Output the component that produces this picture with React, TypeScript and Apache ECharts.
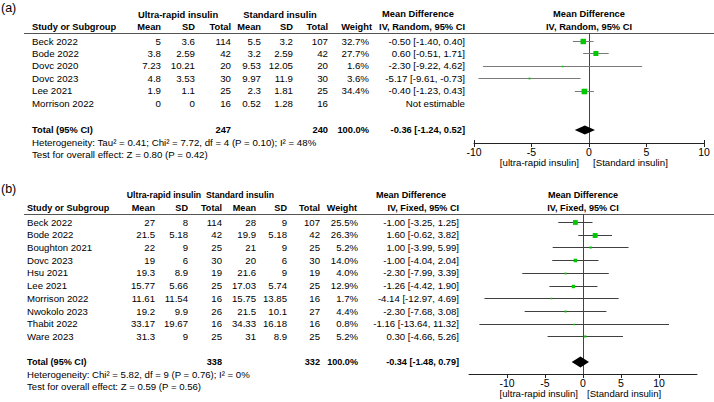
import React, { useEffect, useRef } from "react";
import * as echarts from "echarts";

// ---------- Panel (a): IV, Random ----------
const studiesA = ["Beck 2022", "Bode 2022", "Dovc 2020", "Dovc 2023", "Lee 2021", "Morrison 2022"];
const urMeanA = [5, 3.8, 7.23, 4.8, 1.9, 0];
const urSdA = [3.6, 2.59, 10.21, 3.53, 1.1, 0];
const urTotalA = [114, 42, 20, 30, 25, 16];
const stMeanA = [5.5, 3.2, 9.53, 9.97, 2.3, 0.52];
const stSdA = [3.2, 2.59, 12.05, 11.9, 1.81, 1.28];
const stTotalA = [107, 42, 20, 30, 25, 16];
const weightA: (number | null)[] = [32.7, 27.7, 1.6, 3.6, 34.4, null];
const mdA: (number | null)[] = [-0.5, 0.6, -2.3, -5.17, -0.4, null];
const loA: (number | null)[] = [-1.4, -0.51, -9.22, -9.61, -1.23, null];
const hiA: (number | null)[] = [0.4, 1.71, 4.62, -0.73, 0.43, null];
const totalsA = [247, 240];
const pooledA = [-0.36, -1.24, 0.52];
const statsA = [
  "Heterogeneity: Tau\u00b2 = 0.41; Chi\u00b2 = 7.72, df = 4 (P = 0.10); I\u00b2 = 48%",
  "Test for overall effect: Z = 0.80 (P = 0.42)",
];

// ---------- Panel (b): IV, Fixed ----------
const studiesB = [
  "Beck 2022", "Bode 2022", "Boughton 2021", "Dovc 2023", "Hsu 2021",
  "Lee 2021", "Morrison 2022", "Nwokolo 2023", "Thabit 2022", "Ware 2023",
];
const urMeanB = [27, 21.5, 22, 19, 19.3, 15.77, 11.61, 19.2, 33.17, 31.3];
const urSdB = [8, 5.18, 9, 6, 8.9, 5.66, 11.54, 9.9, 19.67, 9];
const urTotalB = [114, 42, 25, 30, 19, 25, 16, 26, 16, 25];
const stMeanB = [28, 19.9, 21, 20, 21.6, 17.03, 15.75, 21.5, 34.33, 31];
const stSdB = [9, 5.18, 9, 6, 9, 5.74, 13.85, 10.1, 16.18, 8.9];
const stTotalB = [107, 42, 25, 30, 19, 25, 16, 27, 16, 25];
const weightB: (number | null)[] = [25.5, 26.3, 5.2, 14.0, 4.0, 12.9, 1.7, 4.4, 0.8, 5.2];
const mdB: (number | null)[] = [-1.0, 1.6, 1.0, -1.0, -2.3, -1.26, -4.14, -2.3, -1.16, 0.3];
const loB: (number | null)[] = [-3.25, -0.62, -3.99, -4.04, -7.99, -4.42, -12.97, -7.68, -13.64, -4.66];
const hiB: (number | null)[] = [1.25, 3.82, 5.99, 2.04, 3.39, 1.9, 4.69, 3.08, 11.32, 5.26];
const totalsB = [338, 332];
const pooledB = [-0.34, -1.48, 0.79];
const statsB = [
  "Heterogeneity: Chi\u00b2 = 5.82, df = 9 (P = 0.76); I\u00b2 = 0%",
  "Test for overall effect: Z = 0.59 (P = 0.56)",
];

const axisTicks = [-10, -5, 0, 5, 10];

const FONT = '"Liberation Sans", Arial, Helvetica, sans-serif';
const GREEN = "#00c800";

type Layout = {
  tag: string;
  method: string;
  top: number; // header rule
  axisY: number; // x axis line
  row0: number; // first study row centre
  pitch: number;
  totalY: number;
  size: number;
  boldSize: number;
  groupSize: number;
  name: number;
  urMean: number; urSd: number; urTotal: number;
  stMean: number; stSd: number; stTotal: number;
  weight: number; weightHead: number; ci: number;
  groupUR: number; groupST: number; mdHead: number;
  plotLeft: number; plotRight: number;
  xMin: number; xMax: number;
  whisker: string;
  diamondH: number;
  endTicksBothSides: boolean;
  leftLabelEnd: number; rightLabelStart: number;
};

const layoutA: Layout = {
  tag: "(a)", method: "IV, Random, 95% CI",
  top: 33, axisY: 143, row0: 41, pitch: 12.4, totalY: 130,
  size: 9.7, boldSize: 9.3, groupSize: 9.4,
  name: 32, urMean: 161, urSd: 195, urTotal: 231, stMean: 261, stSd: 293, stTotal: 328,
  weight: 369, weightHead: 372, ci: 465, groupUR: 178, groupST: 280, mdHead: 418,
  plotLeft: 474, plotRight: 704, xMin: -10, xMax: 10,
  whisker: "#7a7a7a", diamondH: 4.6, endTicksBothSides: true,
  leftLabelEnd: 579, rightLabelStart: 593,
};

const layoutB: Layout = {
  tag: "(b)", method: "IV, Fixed, 95% CI",
  top: 214, axisY: 374, row0: 222, pitch: 12.72, totalY: 362,
  size: 9.6, boldSize: 9.1, groupSize: 8.7,
  name: 27, urMean: 155, urSd: 188, urTotal: 222, stMean: 256, stSd: 287, stTotal: 320,
  weight: 358, weightHead: 357, ci: 459, groupUR: 164, groupST: 240, mdHead: 411,
  plotLeft: 469, plotRight: 697, xMin: -15, xMax: 15,
  whisker: "#404040", diamondH: 5.6, endTicksBothSides: false,
  leftLabelEnd: 578, rightLabelStart: 587,
};

function txt(x: number, y: number, text: string, size: number, bold = false, align = "left") {
  return {
    type: "text",
    x,
    y,
    silent: true,
    style: {
      text,
      fill: "#000",
      font: `${bold ? "bold " : ""}${size}px ${FONT}`,
      textAlign: align,
      textVerticalAlign: "middle",
      align,
      verticalAlign: "middle",
    },
  };
}

const ci = (m: number, l: number, h: number) => `${m.toFixed(2)} [${l.toFixed(2)}, ${h.toFixed(2)}]`;

function panelGraphics(L: Layout, d: any) {
  const g: any[] = [];
  const rowY = (i: number) => L.row0 + i * L.pitch;
  const x0 = L.plotLeft + ((0 - L.xMin) / (L.xMax - L.xMin)) * (L.plotRight - L.plotLeft);
  const hY1 = L.top - 19;
  const hY2 = L.top - 6;
  const b = L.boldSize;
  const s = L.size;

  g.push(txt(1, L.top - 25, L.tag, 12.5));
  g.push(txt(L.groupUR, hY1, "Ultra-rapid insulin", L.groupSize, true, "center"));
  g.push(txt(L.groupST, hY1, "Standard insulin", L.groupSize, true, "center"));
  g.push(txt(L.mdHead, hY1, "Mean Difference", b, true, "center"));
  g.push(txt(x0, hY1, "Mean Difference", b, true, "center"));

  g.push(txt(L.name, hY2, "Study or Subgroup", b, true, "left"));
  g.push(txt(L.urMean, hY2, "Mean", b, true, "right"));
  g.push(txt(L.urSd, hY2, "SD", b, true, "right"));
  g.push(txt(L.urTotal, hY2, "Total", b, true, "right"));
  g.push(txt(L.stMean, hY2, "Mean", b, true, "right"));
  g.push(txt(L.stSd, hY2, "SD", b, true, "right"));
  g.push(txt(L.stTotal, hY2, "Total", b, true, "right"));
  g.push(txt(L.weightHead, hY2, "Weight", b, true, "right"));
  g.push(txt(L.ci, hY2, L.method, b, true, "right"));
  g.push(txt(x0, hY2, L.method, b, true, "center"));

  g.push({
    type: "line",
    silent: true,
    shape: { x1: 24, y1: L.top + 0.5, x2: 714, y2: L.top + 0.5 },
    style: { stroke: "#555", lineWidth: 1 },
  });

  d.studies.forEach((name: string, i: number) => {
    const y = rowY(i);
    g.push(txt(L.name, y, name, s));
    g.push(txt(L.urMean, y, String(d.urMean[i]), s, false, "right"));
    g.push(txt(L.urSd, y, String(d.urSd[i]), s, false, "right"));
    g.push(txt(L.urTotal, y, String(d.urTotal[i]), s, false, "right"));
    g.push(txt(L.stMean, y, String(d.stMean[i]), s, false, "right"));
    g.push(txt(L.stSd, y, String(d.stSd[i]), s, false, "right"));
    g.push(txt(L.stTotal, y, String(d.stTotal[i]), s, false, "right"));
    if (d.md[i] == null) {
      g.push(txt(L.ci, y, "Not estimable", s, false, "right"));
    } else {
      g.push(txt(L.weight, y, `${(d.weight[i] as number).toFixed(1)}%`, s, false, "right"));
      g.push(txt(L.ci, y, ci(d.md[i], d.lo[i], d.hi[i]), s, false, "right"));
    }
  });

  const ty = L.totalY;
  g.push(txt(L.name, ty, "Total (95% CI)", b, true));
  g.push(txt(L.urTotal, ty, String(d.totals[0]), b, true, "right"));
  g.push(txt(L.stTotal, ty, String(d.totals[1]), b, true, "right"));
  g.push(txt(L.weight, ty, "100.0%", b, true, "right"));
  g.push(txt(L.ci, ty, ci(d.pooled[0], d.pooled[1], d.pooled[2]), b, true, "right"));
  g.push(txt(L.name, ty + 12, d.stats[0], s));
  g.push(txt(L.name, ty + 24, d.stats[1], s));

  const ny = L.axisY + 19;
  g.push(txt(L.leftLabelEnd, ny, "[ultra-rapid insulin]", s, false, "right"));
  g.push(txt(L.rightLabelStart, ny, "[Standard insulin]", s, false, "left"));
  return g;
}

function buildOption() {
  const panels = [
    {
      L: layoutA,
      d: {
        studies: studiesA, urMean: urMeanA, urSd: urSdA, urTotal: urTotalA,
        stMean: stMeanA, stSd: stSdA, stTotal: stTotalA, weight: weightA,
        md: mdA, lo: loA, hi: hiA, totals: totalsA, pooled: pooledA, stats: statsA,
      },
    },
    {
      L: layoutB,
      d: {
        studies: studiesB, urMean: urMeanB, urSd: urSdB, urTotal: urTotalB,
        stMean: stMeanB, stSd: stSdB, stTotal: stTotalB, weight: weightB,
        md: mdB, lo: loB, hi: hiB, totals: totalsB, pooled: pooledB, stats: statsB,
      },
    },
  ];

  const grid: any[] = [];
  const xAxis: any[] = [];
  const yAxis: any[] = [];
  const series: any[] = [];
  let graphic: any[] = [];

  panels.forEach(({ L, d }, k) => {
    grid.push({
      left: L.plotLeft,
      width: L.plotRight - L.plotLeft,
      top: L.top,
      height: L.axisY - L.top,
      containLabel: false,
    });
    xAxis.push({
      gridIndex: k,
      type: "value",
      min: L.xMin,
      max: L.xMax,
      interval: 5,
      splitLine: { show: false },
      axisLine: { show: true, onZero: false, lineStyle: { color: "#222", width: 1 } },
      axisTick: { show: true, length: 4, customValues: axisTicks, lineStyle: { color: "#222" } },
      axisLabel: {
        customValues: axisTicks,
        margin: 3,
        color: "#000",
        fontSize: 10.5,
        fontFamily: FONT,
      },
    });
    // rows are counted downward from the first study
    yAxis.push({
      gridIndex: k,
      type: "value",
      inverse: true,
      show: false,
      min: (L.top - L.row0) / L.pitch,
      max: (L.axisY - L.row0) / L.pitch,
    });

    // vertical line of no effect
    series.push({
      type: "custom",
      xAxisIndex: k,
      yAxisIndex: k,
      silent: true,
      z: 1,
      data: [[0]],
      renderItem: (params: any, api: any) => {
        const cs = params.coordSys;
        const p = api.coord([api.value(0), 0]);
        return {
          type: "line",
          shape: { x1: Math.round(p[0]) + 0.5, y1: cs.y, x2: Math.round(p[0]) + 0.5, y2: cs.y + cs.height },
          style: { stroke: "#444", lineWidth: 1 },
        };
      },
    });

    // outer ticks of the axis reach above the line as well
    if (L.endTicksBothSides) {
      series.push({
        type: "custom",
        xAxisIndex: k,
        yAxisIndex: k,
        silent: true,
        z: 1,
        data: [[L.xMin], [L.xMax]],
        renderItem: (params: any, api: any) => {
          const cs = params.coordSys;
          const p = api.coord([api.value(0), 0]);
          const x = Math.round(p[0]) + 0.5;
          const y = cs.y + cs.height;
          return {
            type: "line",
            shape: { x1: x, y1: y - 3, x2: x, y2: y },
            style: { stroke: "#222", lineWidth: 1 },
          };
        },
      });
    }

    // study estimates: CI whisker + square sized by weight
    const rows: number[][] = [];
    d.studies.forEach((_: string, i: number) => {
      if (d.md[i] != null) rows.push([d.md[i], d.lo[i], d.hi[i], i, d.weight[i]]);
    });
    series.push({
      type: "custom",
      xAxisIndex: k,
      yAxisIndex: k,
      silent: true,
      z: 2,
      data: rows,
      renderItem: (_params: any, api: any) => {
        const y = api.value(3);
        const a = api.coord([api.value(1), y]);
        const b2 = api.coord([api.value(2), y]);
        const c = api.coord([api.value(0), y]);
        const side = Math.max(1.6, 0.95 * Math.sqrt(api.value(4)));
        const yy = Math.round(a[1]) + 0.5;
        return {
          type: "group",
          children: [
            {
              type: "line",
              shape: { x1: a[0], y1: yy, x2: b2[0], y2: yy },
              style: { stroke: L.whisker, lineWidth: 1 },
            },
            {
              type: "rect",
              shape: { x: c[0] - side / 2, y: yy - side / 2, width: side, height: side },
              style: { fill: GREEN },
            },
          ],
        };
      },
    });

    // pooled estimate diamond
    const totalRow = (L.totalY - L.row0) / L.pitch;
    series.push({
      type: "custom",
      xAxisIndex: k,
      yAxisIndex: k,
      silent: true,
      z: 3,
      data: [[d.pooled[0], d.pooled[1], d.pooled[2], totalRow]],
      renderItem: (_params: any, api: any) => {
        const y = api.value(3);
        const m = api.coord([api.value(0), y]);
        const l = api.coord([api.value(1), y]);
        const h = api.coord([api.value(2), y]);
        const dh = L.diamondH;
        return {
          type: "polygon",
          shape: { points: [[l[0], m[1]], [m[0], m[1] - dh], [h[0], m[1]], [m[0], m[1] + dh]] },
          style: { fill: "#000" },
        };
      },
    });

    graphic = graphic.concat(panelGraphics(L, d));
  });

  return {
    animation: false,
    backgroundColor: "#fff",
    grid,
    xAxis,
    yAxis,
    series,
    graphic: { elements: graphic },
  };
}

export default function App() {
  const ref = useRef<HTMLDivElement>(null);
  useEffect(() => {
    document.body.style.margin = "0";
    if (!ref.current) return;
    const chart = echarts.init(ref.current, null, { renderer: "svg" });
    chart.setOption(buildOption() as any);
    return () => chart.dispose();
  }, []);
  return (
    <div
      ref={ref}
      style={{ position: "absolute", left: 0, top: 0, width: 714, height: 402, background: "#fff" }}
    />
  );
}
